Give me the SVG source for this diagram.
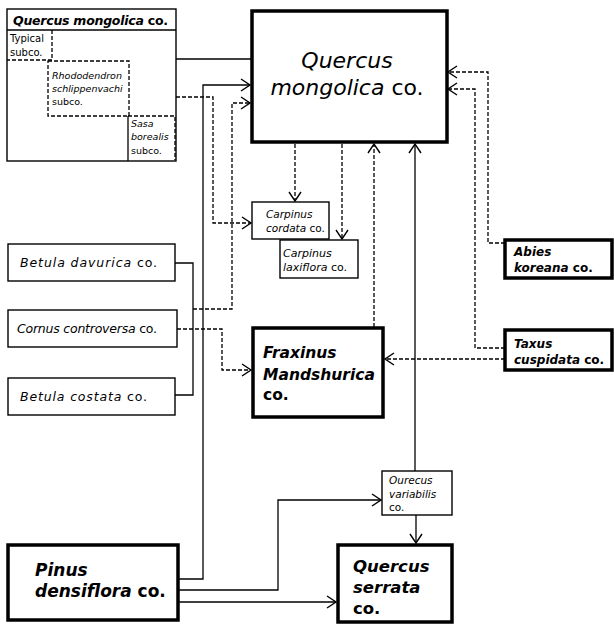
<svg xmlns="http://www.w3.org/2000/svg" width="614" height="624" viewBox="0 0 614 624">
<defs>
<style>
text{font-family:"DejaVu Sans","Liberation Sans",sans-serif;fill:#000}
.it{font-style:italic}
.b{font-weight:bold}
.thin{fill:#fff;stroke:#000;stroke-width:1.4}
.thick{fill:#fff;stroke:#000;stroke-width:3.5}
.dbox{fill:none;stroke:#000;stroke-width:1.3;stroke-dasharray:4 2}
.sol{fill:none;stroke:#000;stroke-width:1.3}
.dash{fill:none;stroke:#000;stroke-width:1.3;stroke-dasharray:4 2}
.arr{marker-end:url(#ah)}
</style>
<marker id="ah" markerUnits="userSpaceOnUse" markerWidth="12" markerHeight="14" refX="10" refY="7" orient="auto">
<path d="M1,1 L10,7 L1,13" fill="none" stroke="#000" stroke-width="1.4"/>
</marker>
</defs>

<g id="connectors">
<path class="sol" d="M176,59 H252"/>
<path class="dash arr" d="M176,97 H213 V223 H251"/>
<path class="sol arr" d="M178,579 H203 V85 H250"/>
<path class="sol" d="M175,263 H193 V395 H175"/>
<path class="dash arr" d="M193,309 H232 V103 H250"/>
<path class="dash arr" d="M177,329 H222 V370 H251"/>
<path class="dash arr" d="M295,144 V201"/>
<path class="dash arr" d="M342,144 V239"/>
<path class="dash arr" d="M374,327 V144"/>
<path class="sol arr" d="M415,471 V144"/>
<path class="sol arr" d="M416,515 V543"/>
<path class="sol arr" d="M178,590 H278 V500 H381"/>
<path class="sol arr" d="M178,602 H336"/>
<path class="dash arr" d="M505,243 H488 V72 H448"/>
<path class="dash arr" d="M505,348 H475 V89 H448"/>
<path class="dash arr" d="M505,359 H385"/>
</g>

<g id="qm-community">
<rect class="thin" x="7" y="9" width="169" height="152"/>
<line class="sol" x1="7" y1="30" x2="176" y2="30"/>
<text x="13" y="25" class="b it" font-size="12.5" textLength="155" lengthAdjust="spacing">Quercus mongolica <tspan font-style="normal">co.</tspan></text>
</g>
<g id="typical-subco">
<path class="dbox" d="M52,30 V60 H7"/>
<text x="10" y="42" font-size="10">Typical</text>
<text x="10" y="56" font-size="10">subco.</text>
</g>
<g id="rhodo-subco">
<rect class="dbox" x="48" y="61" width="81" height="55"/>
<text x="52" y="79" class="it" font-size="9.5">Rhododendron</text>
<text x="52" y="92" class="it" font-size="9.5">schlippenvachi</text>
<text x="52" y="105" font-size="9.5">subco.</text>
</g>
<g id="sasa-subco">
<path class="dbox" d="M128,116 H175 V160"/>
<line class="sol" x1="128" y1="116" x2="128" y2="161"/>
<text x="131" y="127" class="it" font-size="9.5">Sasa</text>
<text x="131" y="140" class="it" font-size="9.5">borealis</text>
<text x="131" y="154" font-size="9.5">subco.</text>
</g>

<g id="quercus-mongolica">
<rect class="thick" x="252" y="11" width="195" height="131" stroke-width="4"/>
<text x="347" y="68" class="it" font-size="22" text-anchor="middle">Quercus</text>
<text x="347" y="95" font-size="22" text-anchor="middle"><tspan class="it">mongolica</tspan> co.</text>
</g>

<g id="carpinus-cordata">
<rect class="thin" x="252" y="202" width="77" height="37" stroke-width="1.2"/>
<text x="266" y="218" class="it" font-size="10.5">Carpinus</text>
<text x="266" y="232" font-size="10.5"><tspan class="it">cordata</tspan> co.</text>
</g>
<g id="carpinus-laxiflora">
<rect class="thin" x="280" y="240" width="78" height="38" stroke-width="1.2"/>
<text x="283" y="257" class="it" font-size="11">Carpinus</text>
<text x="283" y="271" font-size="11"><tspan class="it">laxiflora</tspan> co.</text>
</g>

<g id="abies-koreana">
<rect class="thick" x="505" y="240" width="107" height="38" stroke-width="3"/>
<text x="514" y="256" class="b it" font-size="12">Abies</text>
<text x="514" y="272" class="b" font-size="12"><tspan class="it">koreana</tspan> co.</text>
</g>

<g id="taxus-cuspidata">
<rect class="thick" x="505" y="330" width="107" height="40" stroke-width="3"/>
<text x="514" y="348" class="b it" font-size="12">Taxus</text>
<text x="514" y="364" class="b" font-size="12"><tspan class="it">cuspidata</tspan> co.</text>
</g>

<g id="betula-davurica">
<rect class="thin" x="8" y="244" width="167" height="37"/>
<text x="20" y="267" font-size="12.5" textLength="137" lengthAdjust="spacing"><tspan class="it">Betula davurica</tspan> co.</text>
</g>
<g id="cornus-controversa">
<rect class="thin" x="8" y="310" width="169" height="37"/>
<text x="17" y="333" font-size="12.5" textLength="140" lengthAdjust="spacing"><tspan class="it">Cornus controversa</tspan> co.</text>
</g>
<g id="betula-costata">
<rect class="thin" x="8" y="378" width="167" height="37"/>
<text x="20" y="401" font-size="12.5" textLength="127" lengthAdjust="spacing"><tspan class="it">Betula costata</tspan> co.</text>
</g>

<g id="fraxinus-mandshurica">
<rect class="thick" x="253" y="328" width="130" height="89"/>
<text x="263" y="358" class="b it" font-size="15.5">Fraxinus</text>
<text x="263" y="380" class="b it" font-size="15.5">Mandshurica</text>
<text x="263" y="400" class="b" font-size="15.5">co.</text>
</g>

<g id="quercus-variabilis">
<rect class="thin" x="382" y="471" width="70" height="44" stroke-width="1.2"/>
<text x="389" y="484" class="it" font-size="10.5">Ourecus</text>
<text x="389" y="498" class="it" font-size="10.5">variabilis</text>
<text x="389" y="511" font-size="10.5">co.</text>
</g>

<g id="quercus-serrata">
<rect class="thick" x="338" y="545" width="114" height="77" stroke-width="4"/>
<text x="353" y="572" class="b it" font-size="16.5">Quercus</text>
<text x="353" y="593" class="b it" font-size="16.5">serrata</text>
<text x="353" y="614" class="b" font-size="16.5">co.</text>
</g>

<g id="pinus-densiflora">
<rect class="thick" x="8" y="545" width="170" height="75"/>
<text x="35" y="576" class="b it" font-size="17">Pinus</text>
<text x="35" y="597" class="b" font-size="17"><tspan class="it">densiflora</tspan> co.</text>
</g>
</svg>
